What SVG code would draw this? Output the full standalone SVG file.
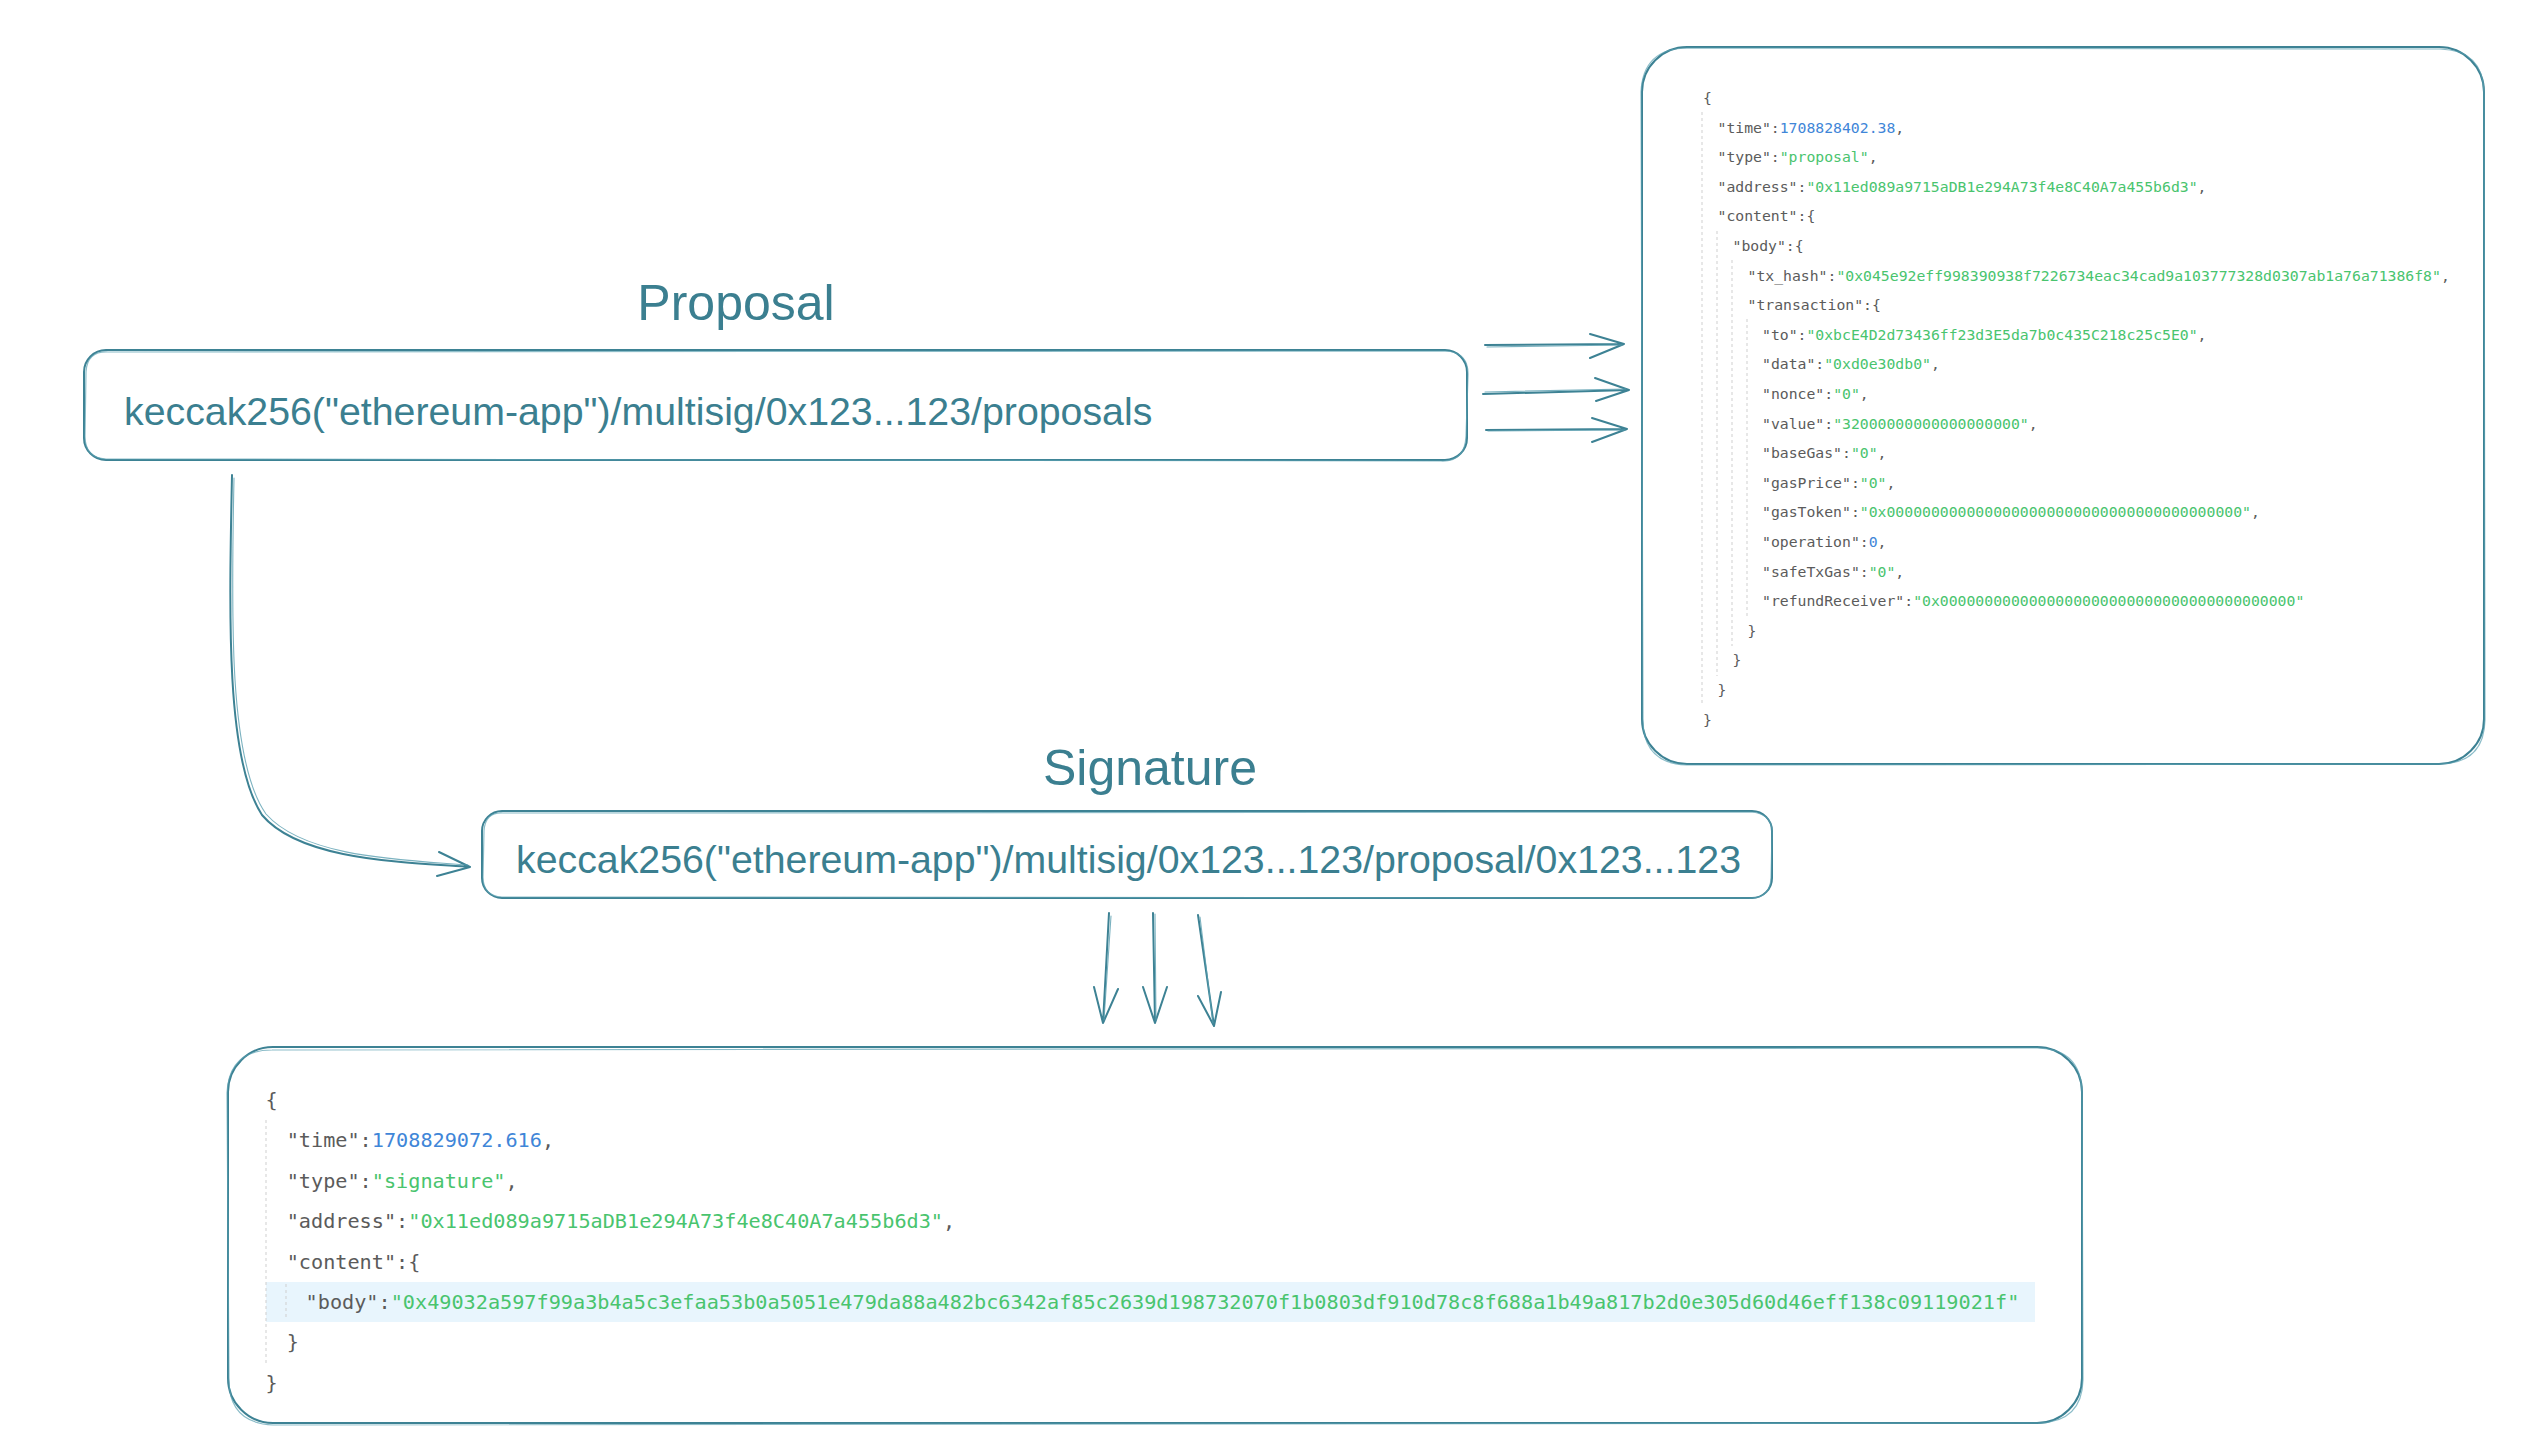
<svg xmlns="http://www.w3.org/2000/svg" width="2532" height="1450" viewBox="0 0 2532 1450">
<style>
.box{fill:none;stroke:#3d8294;stroke-width:2;stroke-linecap:round;stroke-linejoin:round}
.box2{fill:none;stroke:#5a9fb0;stroke-width:1.2;opacity:0.7}
.ln{fill:none;stroke:#3d8294;stroke-width:2;stroke-linecap:round;stroke-linejoin:round}
.ln2{fill:none;stroke:#5a9fb0;stroke-width:1.1;stroke-linecap:round;opacity:0.8}
.title{font-family:"Liberation Sans",Arial,sans-serif;font-size:50px;fill:#3b7f90;text-anchor:middle}
.path{font-family:"Liberation Sans",Arial,sans-serif;font-size:39.3px;fill:#3b7f90}
.js{font-family:"DejaVu Sans Mono","Liberation Mono",monospace;font-size:14.77px;fill:#5b5b5b}
.jb{font-family:"DejaVu Sans Mono","Liberation Mono",monospace;font-size:20.2px;fill:#5b5b5b}
.s{fill:#49c46e}
.n{fill:#3f86d8}
.guide{stroke:#cfcfcf;stroke-width:1;stroke-dasharray:3 3;fill:none}
</style>

<g id="proposal-title">
<text class="title" x="736" y="320">Proposal</text>
</g>

<g id="proposal-node">
<rect class="box" x="84" y="350" width="1383" height="110" rx="22" ry="22"/>
<path class="box2" d="M108,352 L1445,351 Q1469,352 1468,376 L1466,436 Q1465,462 1441,461 L106,459 Q85,458 85,436 L86,372 Q87,351 108,352"/>
<text class="path" x="124" y="425">keccak256("ethereum-app")/multisig/0x123...123/proposals</text>
</g>

<g id="signature-title">
<text class="title" x="1150" y="785">Signature</text>
</g>

<g id="signature-node">
<rect class="box" x="482" y="811" width="1290" height="87" rx="20" ry="20"/>
<path class="box2" d="M503,813 L1750,812 Q1773,813 1772,834 L1771,878 Q1770,899 1749,898 L502,897 Q483,896 483,877 L484,831 Q485,812 503,813"/>
<text class="path" x="516" y="873">keccak256("ethereum-app")/multisig/0x123...123/proposal/0x123...123</text>
</g>

<g id="proposal-json">
<rect class="box" x="1642" y="47" width="842" height="717" rx="45" ry="45"/>
<path class="box2" d="M1688,48 L2440,49 Q2483,50 2484,92 L2485,720 Q2484,763 2441,764 L1686,765 Q1643,763 1643,720 L1641,92 Q1643,48 1688,48"/>
<line class="guide" x1="1702" y1="112" x2="1702" y2="706"/>
<line class="guide" x1="1717" y1="231" x2="1717" y2="676"/>
<line class="guide" x1="1732" y1="260" x2="1732" y2="646"/>
<line class="guide" x1="1747" y1="319" x2="1747" y2="617"/>
<text class="js" x="1703" y="103">{</text>
<text class="js" x="1717.5" y="132.6">"time":<tspan class="n">1708828402.38</tspan>,</text>
<text class="js" x="1717.5" y="162.2">"type":<tspan class="s">"proposal"</tspan>,</text>
<text class="js" x="1717.5" y="191.8">"address":<tspan class="s">"0x11ed089a9715aDB1e294A73f4e8C40A7a455b6d3"</tspan>,</text>
<text class="js" x="1717.5" y="221.4">"content":{</text>
<text class="js" x="1732.5" y="251">"body":{</text>
<text class="js" x="1747.5" y="280.6">"tx_hash":<tspan class="s">"0x045e92eff998390938f7226734eac34cad9a103777328d0307ab1a76a71386f8"</tspan>,</text>
<text class="js" x="1747.5" y="310.2">"transaction":{</text>
<text class="js" x="1762" y="339.8">"to":<tspan class="s">"0xbcE4D2d73436ff23d3E5da7b0c435C218c25c5E0"</tspan>,</text>
<text class="js" x="1762" y="369.4">"data":<tspan class="s">"0xd0e30db0"</tspan>,</text>
<text class="js" x="1762" y="399">"nonce":<tspan class="s">"0"</tspan>,</text>
<text class="js" x="1762" y="428.6">"value":<tspan class="s">"32000000000000000000"</tspan>,</text>
<text class="js" x="1762" y="458.2">"baseGas":<tspan class="s">"0"</tspan>,</text>
<text class="js" x="1762" y="487.8">"gasPrice":<tspan class="s">"0"</tspan>,</text>
<text class="js" x="1762" y="517.4">"gasToken":<tspan class="s">"0x0000000000000000000000000000000000000000"</tspan>,</text>
<text class="js" x="1762" y="547">"operation":<tspan class="n">0</tspan>,</text>
<text class="js" x="1762" y="576.6">"safeTxGas":<tspan class="s">"0"</tspan>,</text>
<text class="js" x="1762" y="606.2">"refundReceiver":<tspan class="s">"0x0000000000000000000000000000000000000000"</tspan></text>
<text class="js" x="1747.5" y="635.8">}</text>
<text class="js" x="1732.5" y="665.4">}</text>
<text class="js" x="1717.5" y="695">}</text>
<text class="js" x="1703" y="724.6">}</text>
</g>

<g id="signature-json">
<rect class="box" x="228" y="1047" width="1854" height="376" rx="45" ry="45"/>
<path class="box2" d="M272,1050 L2038,1048 Q2081,1049 2082,1092 L2083,1380 Q2082,1422 2039,1423 L273,1425 Q229,1423 229,1380 L227,1093 Q229,1050 272,1050"/>
<rect x="266" y="1282" width="1769" height="40" fill="#e8f5fd"/>
<line class="guide" x1="266" y1="1120" x2="266" y2="1364"/>
<line class="guide" x1="286" y1="1284" x2="286" y2="1320"/>
<text class="jb" x="265.6" y="1107">{</text>
<text class="jb" x="286.7" y="1147.4">"time":<tspan class="n">1708829072.616</tspan>,</text>
<text class="jb" x="286.7" y="1187.8">"type":<tspan class="s">"signature"</tspan>,</text>
<text class="jb" x="286.7" y="1228.2">"address":<tspan class="s">"0x11ed089a9715aDB1e294A73f4e8C40A7a455b6d3"</tspan>,</text>
<text class="jb" x="286.7" y="1268.6">"content":{</text>
<text class="jb" x="305.6" y="1309">"body":<tspan class="s">"0x49032a597f99a3b4a5c3efaa53b0a5051e479da88a482bc6342af85c2639d198732070f1b0803df910d78c8f688a1b49a817b2d0e305d60d46eff138c09119021f"</tspan></text>
<text class="jb" x="286.7" y="1349.4">}</text>
<text class="jb" x="265.6" y="1389.8">}</text>
</g>

<g id="connectors">
<path class="ln" d="M1485,345 L1624,344 M1590,334 L1624,344 L1590,358"/>
<path class="ln2" d="M1487,347 L1622,345"/>
<path class="ln" d="M1483,394 L1629,390 M1595,378 L1629,390 L1596,401"/>
<path class="ln2" d="M1485,392 L1626,389"/>
<path class="ln" d="M1486,430 L1627,429 M1592,418 L1627,429 L1592,442"/>
<path class="ln2" d="M1488,431 L1625,430"/>
<path class="ln" d="M232,475 C229,620 226,760 262,815 C300,860 400,862 470,867 M439,852 L470,867 L437,876"/>
<path class="ln2" d="M234,478 C231,620 229,762 266,814 C305,858 404,860 468,865"/>
<path class="ln" d="M1109,913 L1103,1023 M1094,987 L1103,1023 L1118,989"/>
<path class="ln2" d="M1111,916 L1104,1020"/>
<path class="ln" d="M1153,913 L1155,1023 M1143,987 L1155,1023 L1167,987"/>
<path class="ln2" d="M1155,914 L1156,1020"/>
<path class="ln" d="M1198,915 L1214,1026 M1198,996 L1214,1026 L1221,992"/>
<path class="ln2" d="M1200,917 L1213,1023"/>
</g>
</svg>
